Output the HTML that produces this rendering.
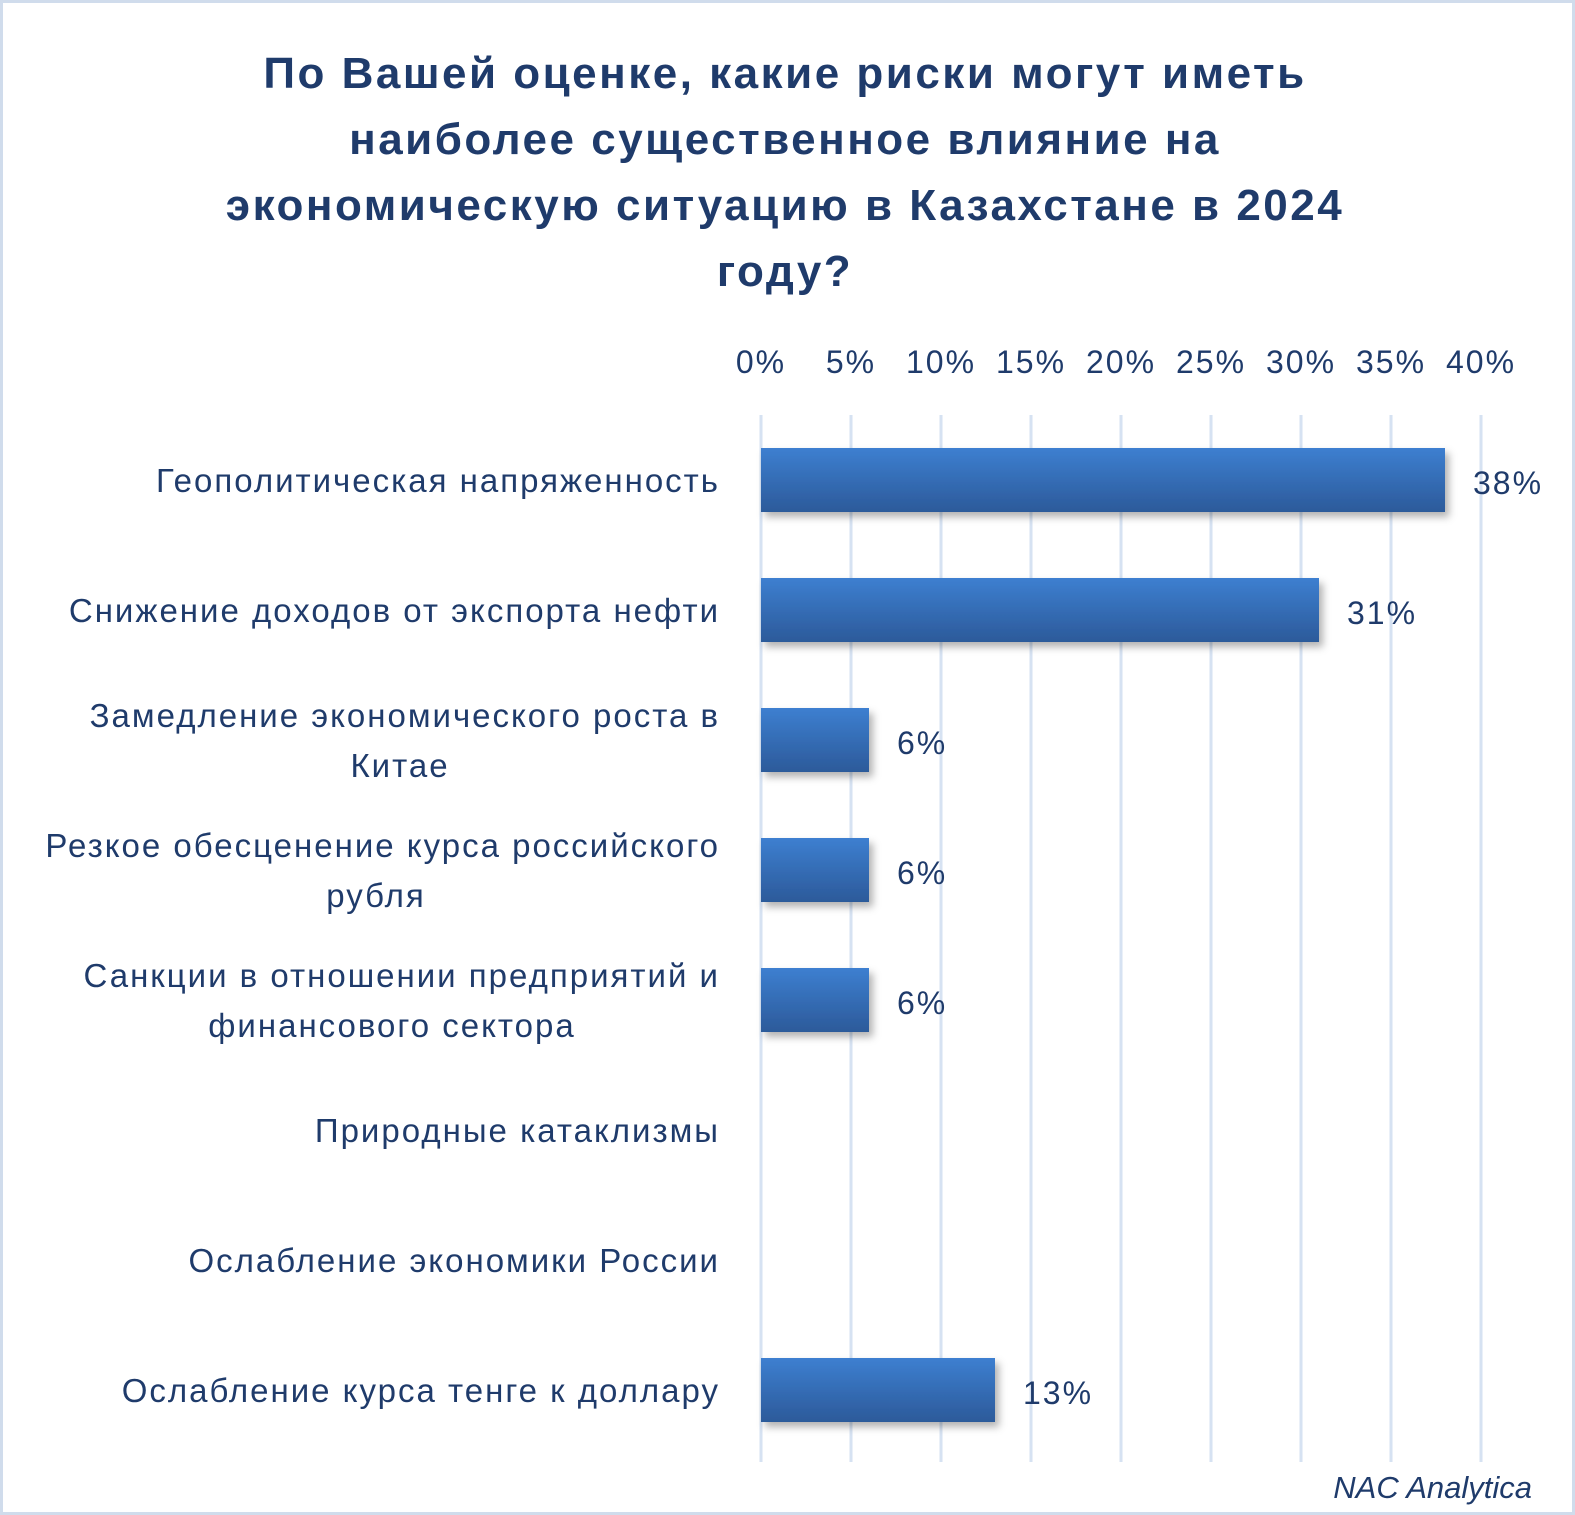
<!DOCTYPE html>
<html><head><meta charset="utf-8"><style>
html,body{margin:0;padding:0;background:#fff}
#wrap{position:relative;width:1575px;height:1515px;overflow:hidden}
svg text{font-family:"Liberation Sans","DejaVu Sans",sans-serif}
</style></head><body>
<div id="wrap">
<svg id="chart" width="1575" height="1515" xmlns="http://www.w3.org/2000/svg">
<defs>
<linearGradient id="barg" x1="0" y1="0" x2="0" y2="1">
<stop offset="0" stop-color="#3d7fd0"/><stop offset="1" stop-color="#2c5a9a"/>
</linearGradient>
<filter id="sh" x="-10%" y="-20%" width="130%" height="160%">
<feDropShadow dx="4" dy="5" stdDeviation="4" flood-color="#000" flood-opacity="0.3"/>
</filter>
</defs>
<rect x="1.5" y="1.5" width="1572" height="1512" fill="#fff" stroke="#d0dcec" stroke-width="3"/>
<g font-weight="bold" font-size="44" letter-spacing="2.5" fill="#1f3b6b" text-anchor="middle">
<text x="785" y="88">По Вашей оценке, какие риски могут иметь</text>
<text x="785" y="154">наиболее существенное влияние на</text>
<text x="785" y="220">экономическую ситуацию в Казахстане в 2024</text>
<text x="785" y="286">году?</text>
</g>
<g id="grid"></g><g id="ticks"></g><g id="bars"></g><g id="cats"></g>
<text x="1532" y="1498" font-size="31" font-style="italic" fill="#1f3b6b" text-anchor="end">NAC Analytica</text>
</svg>
</div>
<script>
const categories = [
 ["Геополитическая напряженность"],
 ["Снижение доходов от экспорта нефти"],
 ["Замедление экономического роста в","Китае"],
 ["Резкое обесценение курса российского","рубля"],
 ["Санкции в отношении предприятий и","финансового сектора"],
 ["Природные катаклизмы"],
 ["Ослабление экономики России"],
 ["Ослабление курса тенге к доллару"]
];
const values = [38, 31, 6, 6, 6, 0, 0, 13];
const valueLabels = ["38%","31%","6%","6%","6%","","","13%"];
const tickValues = [0,5,10,15,20,25,30,35,40];
const tickLabels = ["0%","5%","10%","15%","20%","25%","30%","35%","40%"];

const NS="http://www.w3.org/2000/svg";
const x0=761, x1=1481, yTop=415, yBot=1462, firstC=480, step=130, bh=64;
const xs=v=>x0+(v-tickValues[0])/(tickValues[tickValues.length-1]-tickValues[0])*(x1-x0);
const yc=i=>firstC+i*step;
const secondX=[0,0,400,376,392,0,0,0];
function mk(t,a,p){const e=document.createElementNS(NS,t);for(const k in a)e.setAttribute(k,a[k]);p.appendChild(e);return e;}
const grid=document.getElementById('grid'),ticks=document.getElementById('ticks'),bars=document.getElementById('bars'),cats=document.getElementById('cats');
tickValues.forEach((v,i)=>{
 const l=mk('line',{x1:xs(v),x2:xs(v),y1:yTop,y2:yBot,stroke:'#d6e2f2','stroke-width':3},grid);
 
 
 const t=mk('text',{x:xs(v),y:373,'font-size':32,'letter-spacing':2,fill:'#1f3b6b','text-anchor':'middle'},ticks);
 t.textContent=tickLabels[i];
 
 
});
values.forEach((v,i)=>{
 const c=yc(i);
 if(v>0){
  const r=mk('rect',{x:xs(0),y:c-bh/2,width:xs(v)-xs(0),height:bh,fill:'url(#barg)',filter:'url(#sh)'},bars);
  
  
  const t=mk('text',{x:xs(v)+28,y:c+14,'font-size':32,'letter-spacing':2,fill:'#1f3b6b'},bars);
  t.textContent=valueLabels[i];
  
  
 }
 const lines=categories[i];
 lines.forEach((s,j)=>{
  const y=lines.length===1?c+12:c-13+(j*50);
  const t=mk('text',{x:j===0?720:secondX[i],y:y,'font-size':33,fill:'#1f3b6b','text-anchor':j===0?'end':'middle','letter-spacing':'2'},cats);
  t.textContent=s;
  
  
 });
});
</script>
</body></html>
